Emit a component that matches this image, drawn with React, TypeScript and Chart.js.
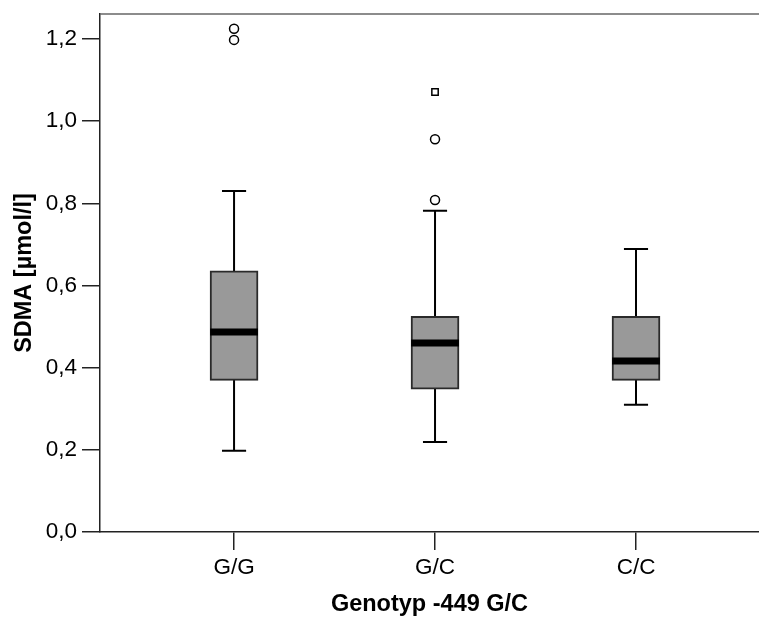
import React, { useEffect, useRef } from "react";
import { Chart, registerables } from "chart.js";

Chart.register(...registerables);

const categories = ["G/G", "G/C", "C/C"];
const whiskerLow = [0.198, 0.219, 0.31];
const quartile1 = [0.369, 0.348, 0.369];
const medians = [0.487, 0.46, 0.416];
const quartile3 = [0.636, 0.525, 0.525];
const whiskerHigh = [0.83, 0.782, 0.689];
const circleOutlierCategory = [0, 0, 1, 1];
const circleOutlierValues = [1.225, 1.198, 0.956, 0.808];
const squareOutlierCategory = [1];
const squareOutlierValues = [1.071];
const yTickValues = [0, 0.2, 0.4, 0.6, 0.8, 1.0, 1.2];

const X_MIN = -0.667;
const X_MAX = 2.612;
const Y_MIN = 0;
const Y_MAX = 1.261;
const BOX_HALF = 0.119;
const CAP_HALF = 0.06;
const FONT = "'Liberation Sans', Arial, Helvetica, sans-serif";

export default function App() {
  const ref = useRef<HTMLCanvasElement | null>(null);

  useEffect(() => {
    if (!ref.current) return;

    const whiskerPts: any[] = [];
    const capPts: any[] = [];
    const medianPts: any[] = [];
    categories.forEach((_, i) => {
      whiskerPts.push({ x: i, y: whiskerLow[i] }, { x: i, y: whiskerHigh[i] }, { x: i, y: null });
      capPts.push(
        { x: i - CAP_HALF, y: whiskerLow[i] },
        { x: i + CAP_HALF, y: whiskerLow[i] },
        { x: i, y: null },
        { x: i - CAP_HALF, y: whiskerHigh[i] },
        { x: i + CAP_HALF, y: whiskerHigh[i] },
        { x: i, y: null }
      );
      medianPts.push(
        { x: i - BOX_HALF, y: medians[i] },
        { x: i + BOX_HALF, y: medians[i] },
        { x: i, y: null }
      );
    });

    const topBorder = {
      id: "topBorder",
      afterDraw(chart: any) {
        const { ctx, chartArea } = chart;
        ctx.save();
        ctx.strokeStyle = "#666";
        ctx.lineWidth = 1.5;
        ctx.beginPath();
        ctx.moveTo(chartArea.left, chartArea.top);
        ctx.lineTo(chartArea.right, chartArea.top);
        ctx.stroke();
        ctx.restore();
      },
    };

    const lineBase = {
      type: "line" as const,
      pointRadius: 0,
      pointHoverRadius: 0,
      fill: false,
      tension: 0,
      spanGaps: false,
      borderColor: "#000",
    };

    const chart = new Chart(ref.current, {
      type: "bar",
      data: {
        datasets: [
          { ...lineBase, label: "whiskers", data: whiskerPts, borderWidth: 2, order: 5 } as any,
          { ...lineBase, label: "caps", data: capPts, borderWidth: 2, order: 4 } as any,
          {
            type: "bar",
            label: "box",
            data: categories.map((_, i) => ({ x: i, y: [quartile1[i], quartile3[i]] })),
            backgroundColor: "#999999",
            borderColor: "#2a2a2a",
            borderWidth: 2,
            borderSkipped: false,
            barThickness: 48,
            order: 3,
          } as any,
          { ...lineBase, label: "median", data: medianPts, borderWidth: 7, borderCapStyle: "butt", order: 2 } as any,
          {
            type: "scatter",
            label: "outliers",
            data: circleOutlierCategory.map((c, k) => ({ x: c, y: circleOutlierValues[k] })),
            pointStyle: "circle",
            pointRadius: 4.5,
            pointBackgroundColor: "#fff",
            pointBorderColor: "#000",
            pointBorderWidth: 1.5,
            order: 1,
          } as any,
          {
            type: "scatter",
            label: "extremes",
            data: squareOutlierCategory.map((c, k) => ({ x: c, y: squareOutlierValues[k] })),
            pointStyle: "rect",
            pointRadius: 4.5,
            pointBackgroundColor: "#fff",
            pointBorderColor: "#000",
            pointBorderWidth: 1.5,
            order: 1,
          } as any,
        ],
      },
      options: {
        responsive: false,
        animation: false,
        events: [],
        layout: { autoPadding: false, padding: { top: 14, left: 0, right: 0, bottom: 0 } },
        plugins: { legend: { display: false }, tooltip: { enabled: false } },
        scales: {
          x: {
            type: "linear",
            min: X_MIN,
            max: X_MAX,
            offset: false,
            afterBuildTicks: (s: any) => {
              s.ticks = categories.map((_, i) => ({ value: i }));
            },
            afterFit: (s: any) => {
              s.height = 85;
              s.paddingLeft = 0;
              s.paddingRight = 0;
            },
            ticks: {
              callback: (v: any) => categories[Math.round(Number(v))] ?? "",
              color: "#000",
              font: { family: FONT, size: 22.5 },
              padding: 4,
              maxRotation: 0,
              autoSkip: false,
            },
            grid: {
              display: true,
              offset: false,
              drawOnChartArea: false,
              drawTicks: true,
              tickLength: 18,
              color: "#222",
              lineWidth: 1.5,
            },
            border: { display: true, color: "#222", width: 1.5 },
            title: {
              display: true,
              text: "Genotyp -449 G/C",
              color: "#000",
              font: { family: FONT, size: 23.5, weight: "bold", lineHeight: 1.05 },
              padding: { top: 0, bottom: 0 },
            },
          },
          y: {
            type: "linear",
            min: Y_MIN,
            max: Y_MAX,
            afterBuildTicks: (s: any) => {
              s.ticks = yTickValues.map((v) => ({ value: v }));
            },
            afterFit: (s: any) => {
              s.width = 100;
              s.paddingTop = 0;
              s.paddingBottom = 0;
            },
            ticks: {
              callback: (v: any) => Number(v).toFixed(1).replace(".", ","),
              color: "#000",
              font: { family: FONT, size: 22.5 },
              padding: 5,
            },
            grid: { display: true, drawOnChartArea: false, drawTicks: true, tickLength: 18, color: "#222", lineWidth: 1.5 },
            border: { display: true, color: "#222", width: 1.5 },
            title: {
              display: true,
              text: "SDMA [µmol/l]",
              color: "#000",
              font: { family: FONT, size: 23.5, weight: "bold" },
              padding: { top: 10, bottom: 0 },
            },
          },
        },
      },
      plugins: [topBorder],
    });

    return () => chart.destroy();
  }, []);

  return (
    <div style={{ position: "fixed", left: 0, top: 0, width: 759, height: 617, background: "#fff" }}>
      <canvas ref={ref} width={759} height={617} />
    </div>
  );
}
